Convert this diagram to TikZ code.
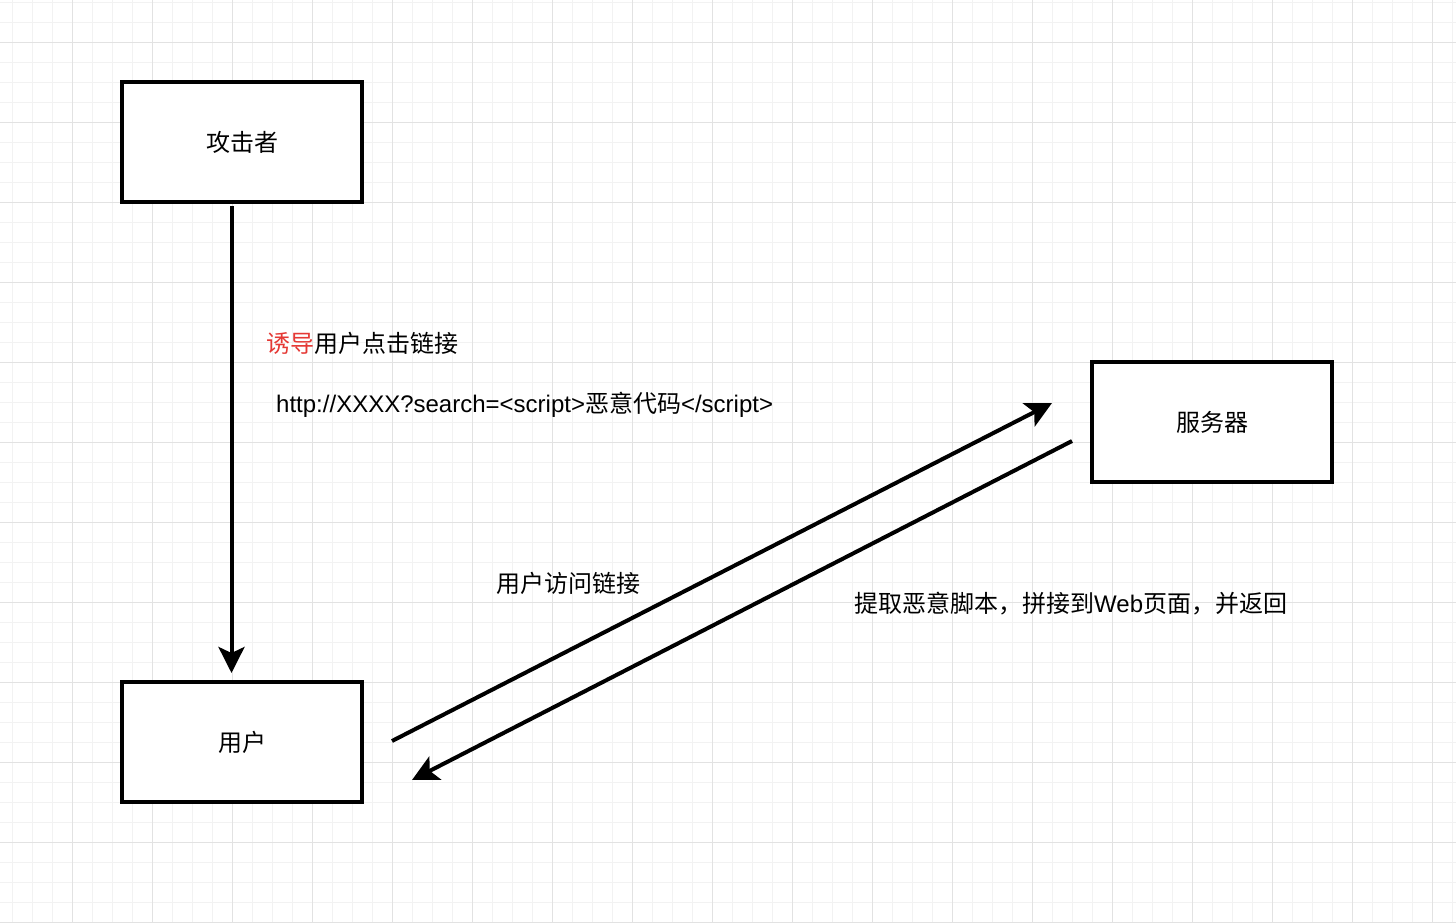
\documentclass[tikz,border=0pt]{standalone}
\usepackage{fontspec}
\setmainfont{Liberation Sans}
\newfontfamily\cjk{Noto Sans CJK SC}
\usetikzlibrary{arrows.meta}
\definecolor{gridminor}{HTML}{F2F2F2}
\definecolor{gridmajor}{HTML}{E2E2E2}
\definecolor{lurered}{RGB}{229,57,53}
\tikzset{
  box/.style={draw=black, line width=4pt, fill=white, minimum width=240pt, minimum height=120pt, inner sep=0pt, font=\cjk\fontsize{24}{28}\selectfont},
  conn/.style={line width=4pt, -{Stealth[length=26pt,width=26pt,inset=6pt]}},
  lbl/.style={inner sep=0pt, anchor=base west, font=\fontsize{24}{28}\selectfont},
  minorline/.style={draw=gridminor, line width=1pt},
  majorline/.style={draw=gridmajor, line width=1pt}
}
\begin{document}
\begin{tikzpicture}[x=1pt,y=-1pt]
\fill[white] (0,0) rectangle (1456,922);
\useasboundingbox (0,0) rectangle (1456,922);
% grid
\foreach \i in {0,...,72} { \draw[minorline] (12.7+20*\i,0) -- (12.7+20*\i,922); }
\foreach \i in {0,...,46} { \draw[minorline] (0,2.7+20*\i) -- (1456,2.7+20*\i); }
\foreach \i in {0,...,17} { \draw[majorline] (72.7+80*\i,0) -- (72.7+80*\i,922); }
\foreach \i in {0,...,11} { \draw[majorline] (0,42.7+80*\i) -- (1456,42.7+80*\i); }
% boxes
\node[box] (attacker) at (242.3,142.3) {攻击者};
\node[box] (user) at (242.3,742.3) {用户};
\node[box] (server) at (1212.3,422.3) {服务器};
% connector ends
\coordinate (a1s) at (231.5,206);
\coordinate (a1e) at (231.5,673);
\coordinate (a2s) at (392,741);
\coordinate (a2e) at (1052,403);
\coordinate (a3s) at (1072,441);
\coordinate (a3e) at (412,780);
\draw[conn] (a1s) -- (a1e);
\draw[conn] (a2s) -- (a2e);
\draw[conn] (a3s) -- (a3e);
% labels
\node[lbl] (l1) at (266,352) {\cjk\textcolor{lurered}{诱导}用户点击链接};
\node[lbl] (l2) at (276,412) {http://XXXX?search=<script>{\cjk 恶意代码}</script>};
\node[lbl] (l3) at (496,592) {\cjk 用户访问链接};
\node[lbl] (l4) at (854,612) {{\cjk 提取恶意脚本，拼接到}Web{\cjk 页面，并返回}};
\end{tikzpicture}
\end{document}
